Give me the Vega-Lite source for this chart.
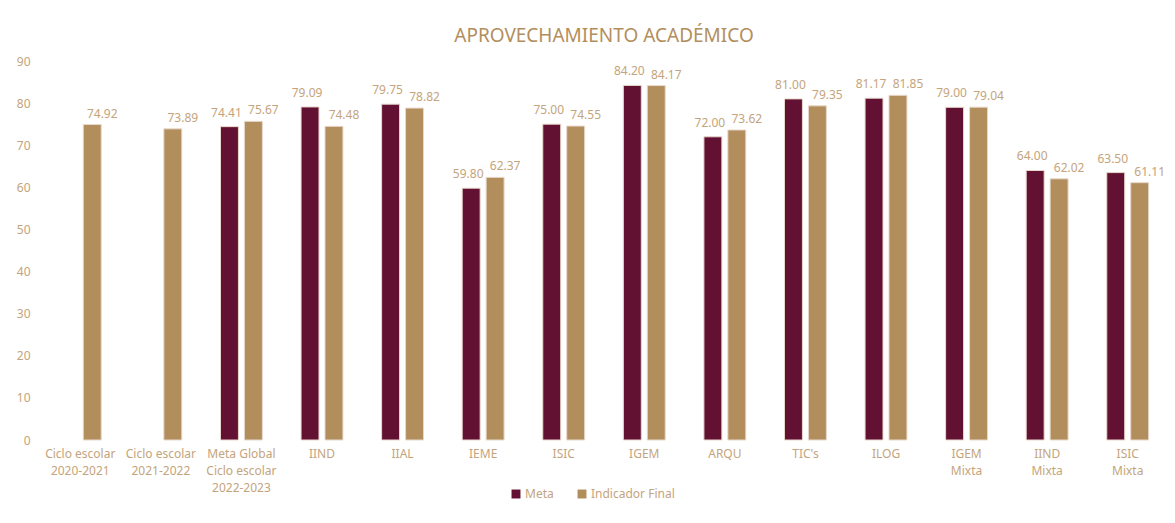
{
  "$schema": "https://vega.github.io/schema/vega-lite/v6.json",
  "autosize": {"type": "none"},
  "padding": {"left": 40, "top": 61, "right": 7, "bottom": 83},
  "width": 1128,
  "height": 379,
  "background": "white",
  "config": {"view": {"stroke": null}},
  "title": {
    "text": "APROVECHAMIENTO ACADÉMICO",
    "font": "Noto Sans",
    "fontSize": 19,
    "fontWeight": "normal",
    "color": "#B38E5D",
    "anchor": "middle",
    "offset": 9
  },
  "data": {
    "values": [
      {"cat": "Ciclo escolar|2020-2021", "serie": "Indicador Final", "valor": 74.92},
      {"cat": "Ciclo escolar|2021-2022", "serie": "Indicador Final", "valor": 73.89},
      {"cat": "Meta Global|Ciclo escolar|2022-2023", "serie": "Meta", "valor": 74.41},
      {"cat": "Meta Global|Ciclo escolar|2022-2023", "serie": "Indicador Final", "valor": 75.67},
      {"cat": "IIND", "serie": "Meta", "valor": 79.09},
      {"cat": "IIND", "serie": "Indicador Final", "valor": 74.48},
      {"cat": "IIAL", "serie": "Meta", "valor": 79.75},
      {"cat": "IIAL", "serie": "Indicador Final", "valor": 78.82},
      {"cat": "IEME", "serie": "Meta", "valor": 59.80},
      {"cat": "IEME", "serie": "Indicador Final", "valor": 62.37},
      {"cat": "ISIC", "serie": "Meta", "valor": 75.00},
      {"cat": "ISIC", "serie": "Indicador Final", "valor": 74.55},
      {"cat": "IGEM", "serie": "Meta", "valor": 84.20},
      {"cat": "IGEM", "serie": "Indicador Final", "valor": 84.17},
      {"cat": "ARQU", "serie": "Meta", "valor": 72.00},
      {"cat": "ARQU", "serie": "Indicador Final", "valor": 73.62},
      {"cat": "TIC's", "serie": "Meta", "valor": 81.00},
      {"cat": "TIC's", "serie": "Indicador Final", "valor": 79.35},
      {"cat": "ILOG", "serie": "Meta", "valor": 81.17},
      {"cat": "ILOG", "serie": "Indicador Final", "valor": 81.85},
      {"cat": "IGEM|Mixta", "serie": "Meta", "valor": 79.00},
      {"cat": "IGEM|Mixta", "serie": "Indicador Final", "valor": 79.04},
      {"cat": "IIND|Mixta", "serie": "Meta", "valor": 64.00},
      {"cat": "IIND|Mixta", "serie": "Indicador Final", "valor": 62.02},
      {"cat": "ISIC|Mixta", "serie": "Meta", "valor": 63.50},
      {"cat": "ISIC|Mixta", "serie": "Indicador Final", "valor": 61.11}
    ]
  },
  "encoding": {
    "x": {
      "field": "cat",
      "type": "nominal",
      "sort": null,
      "title": null,
      "scale": {"paddingInner": 0.48, "paddingOuter": 0.24},
      "axis": {
        "labelExpr": "split(datum.label, '|')",
        "labelAngle": 0,
        "labelFont": "Noto Sans",
        "labelFontSize": 12,
        "labelColor": "#C4A47C",
        "labelPadding": 8,
        "labelLineHeight": 17,
        "ticks": false,
        "domain": false,
        "labelBaseline": "top"
      }
    },
    "xOffset": {
      "field": "serie",
      "type": "nominal",
      "sort": ["Meta", "Indicador Final"],
      "scale": {"paddingInner": 0.25, "paddingOuter": 0}
    },
    "y": {
      "field": "valor",
      "type": "quantitative",
      "title": null,
      "scale": {"domain": [0, 90], "nice": false},
      "axis": {
        "values": [0, 10, 20, 30, 40, 50, 60, 70, 80, 90],
        "grid": false,
        "domain": false,
        "ticks": false,
        "labelFont": "Noto Sans",
        "labelFontSize": 12,
        "labelColor": "#C4A47C",
        "labelPadding": 10
      }
    }
  },
  "layer": [
    {
      "mark": {"type": "bar", "stroke": "#E8D9CC", "strokeWidth": 1},
      "encoding": {
        "color": {
          "field": "serie",
          "type": "nominal",
          "sort": ["Meta", "Indicador Final"],
          "scale": {"domain": ["Meta", "Indicador Final"], "range": ["#621132", "#B38E5D"]},
          "legend": {
            "title": null,
            "orient": "none",
            "direction": "horizontal",
            "legendX": 470,
            "legendY": 427,
            "symbolType": "square",
            "symbolSize": 80,
            "symbolStrokeWidth": 0,
            "labelFont": "Noto Sans",
            "labelFontSize": 12,
            "labelColor": "#C4A47C",
            "columnPadding": 22,
            "labelOffset": 3
          }
        }
      }
    },
    {
      "transform": [{"filter": "datum.serie === 'Meta'"}],
      "mark": {"type": "text", "dy": -14, "dx": -3, "font": "Noto Sans", "fontSize": 12, "color": "#C4A47C"},
      "encoding": {
        "text": {"field": "valor", "type": "quantitative", "format": ".2f"}
      }
    },
    {
      "transform": [{"filter": "datum.serie === 'Indicador Final'"}],
      "mark": {"type": "text", "dy": -11, "dx": 10, "font": "Noto Sans", "fontSize": 12, "color": "#C4A47C"},
      "encoding": {
        "text": {"field": "valor", "type": "quantitative", "format": ".2f"}
      }
    }
  ]
}
